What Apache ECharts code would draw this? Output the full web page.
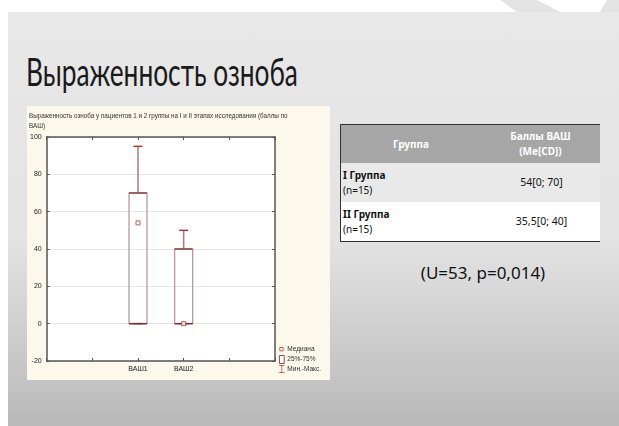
<!DOCTYPE html>
<html>
<head>
    <meta charset="UTF-8">
    <title>Выраженность озноба</title>
    <script src="https://cdn.jsdelivr.net/npm/echarts@6/dist/echarts.min.js"></script>
    <style>
        body { margin: 0; width: 619px; height: 426px; background: #fff; overflow: hidden; position: relative; font-family: "Noto Sans", sans-serif; }
        #slide { position: absolute; left: 8px; top: 12px; right: 0; bottom: 0;
                 background: linear-gradient(#e8e8e8 0%, #e3e3e3 55%, #b9b9b9 100%); }
        #deco1 { position: absolute; left: 500px; top: 0; width: 119px; height: 12px; background: #e3e3e3;
                 clip-path: polygon(0 0, 100% 0, 100% 100%, 17px 100%); }
        #deco2 { position: absolute; left: 537px; top: 0; width: 70px; height: 12px; background: #fff;
                 clip-path: polygon(0 0, 100% 0, 63px 100%, 23px 100%); }
        #title { position: absolute; left: 26px; top: 48px; font-family: Lato, "Open Sans", sans-serif; font-weight: 400;
                 font-size: 38px; color: #1a1a1a; white-space: nowrap; transform-origin: 0 0; }
        #panel { position: absolute; left: 27px; top: 106px; width: 303px; height: 274px; background: #fdf8ec; }
        #chart { width: 303px; height: 274px; }
        #tbl { position: absolute; left: 340px; top: 124px; width: 260px; border-collapse: collapse;
               border-top: 1px solid #333; border-bottom: 1px solid #333; border-left: 1px solid #333; font-size: 10px; }
        #tbl th { background: #a6a6a6; color: #fff; font-weight: bold; height: 38px; text-align: center; line-height: 15px; padding: 0; }
        #tbl td { height: 39px; padding: 0 0 0 2px; color: #111; line-height: 15px; }
        #tbl td.v { text-align: center; font-size: 10.5px; }
        #tbl tr.r1 td { background: #e9e9e9; }
        #tbl tr.r2 td { background: #fff; }
        #stats { position: absolute; left: 383px; width: 200px; top: 261px; text-align: center; font-size: 17px; color: #111; }
    </style>
</head>
<body>
    <div id="slide"></div>
    <div id="deco1"></div>
    <div id="deco2"></div>
    <div id="title">Выраженность озноба</div>
    <div id="panel"><div id="chart"></div></div>
    <table id="tbl"></table>
    <div id="stats"></div>

    <script>
        // данные диаграммы
        var categories = ['', '', 'ВАШ1', 'ВАШ2', '', ''];
        var boxCats = ['ВАШ1', 'ВАШ2'];
        var minVals = [0, 0];
        var q1Vals = [0, 0];
        var medianVals = [54, 0];
        var q3Vals = [70, 40];
        var maxVals = [95, 50];

        // таблица
        var tableHead = ['Группа', 'Баллы ВАШ<br>(Me[CD])'];
        var groupNames = ['I Группа', 'II Группа'];
        var groupN = ['(n=15)', '(n=15)'];
        var groupScores = ['54[0; 70]', '35,5[0; 40]'];
        var statsText = '(U=53, p=0,014)';

        var html = '<tr><th style="width:140px">' + tableHead[0] + '</th><th>' + tableHead[1] + '</th></tr>';
        for (var i = 0; i < groupNames.length; i++) {
            html += '<tr class="r' + (i + 1) + '"><td><b>' + groupNames[i] + '</b><br>' + groupN[i] +
                '</td><td class="v">' + groupScores[i] + '</td></tr>';
        }
        document.getElementById('tbl').innerHTML = html;
        document.getElementById('stats').textContent = statsText;

        // заголовок слайда подгоняем по ширине
        var t = document.getElementById('title');
        t.style.transform = 'scaleX(' + (272 / t.offsetWidth) + ')';

        var boxData = boxCats.map(function (c, i) { return [c, q1Vals[i], q3Vals[i]]; });
        var whiskerData = boxCats.map(function (c, i) { return [c, minVals[i], q1Vals[i], q3Vals[i], maxVals[i]]; });
        var medianData = boxCats.map(function (c, i) { return [c, medianVals[i]]; });

        var boxColor = '#9a4a4a';
        var whiskerColor = '#c47474';
        var capColor = '#b03838';
        var axisCol = '#555';

        var chart = echarts.init(document.getElementById('chart'));
        var option = {
            animation: false,
            textStyle: { fontFamily: 'Liberation Sans, Arial, sans-serif' },
            title: {
                text: 'Выраженность озноба у пациентов 1 и 2 группы на I и II этапах исследования (баллы по\nВАШ)',
                left: 2, top: 6, padding: 0,
                textStyle: { fontSize: 6.3, fontWeight: 'normal', color: '#333', lineHeight: 9.5 }
            },
            legend: {
                orient: 'vertical', left: 251, top: 239, padding: 0, itemGap: 1, itemWidth: 7, itemHeight: 8,
                textStyle: { fontSize: 6.5, color: '#333', padding: [0, 0, 0, -3] },
                data: [
                    { name: 'Медиана', icon: 'path://M0,0 M10,12 M2,3 L7,3 L7,8 L2,8 Z', itemStyle: { color: '#fff', borderColor: capColor, borderWidth: 1 } },
                    { name: '25%-75%', icon: 'path://M0,0 L6,0 L6,10 L0,10 Z', itemStyle: { color: '#fff', borderColor: boxColor, borderWidth: 1 } },
                    { name: 'Мин.-Макс.', icon: 'path://M0,0 L8,0 L8,1 L4.5,1 L4.5,11 L8,11 L8,12 L0,12 L0,11 L3.5,11 L3.5,1 L0,1 Z', itemStyle: { color: capColor } }
                ]
            },
            grid: { left: 18, top: 31, right: 55, bottom: 19, show: true, backgroundColor: '#fff', borderWidth: 0 },
            xAxis: [{
                type: 'category', data: categories, boundaryGap: false,
                axisLine: { onZero: false, lineStyle: { color: axisCol, width: 1.5 } },
                axisTick: { inside: true, length: 3, interval: 0, lineStyle: { color: axisCol } },
                axisLabel: { interval: 0, fontSize: 7, color: '#222', margin: 5 }
            }, {
                type: 'category', data: categories, boundaryGap: false, position: 'top',
                axisLine: { onZero: false, lineStyle: { color: axisCol, width: 1.5 } },
                axisTick: { inside: true, length: 3, interval: 0, lineStyle: { color: axisCol } },
                axisLabel: { show: false }
            }],
            yAxis: [{
                type: 'value', min: -20, max: 100, interval: 20,
                axisLine: { show: true, onZero: false, lineStyle: { color: axisCol, width: 1.5 } },
                axisTick: { show: true, inside: true, length: 3, lineStyle: { color: axisCol } },
                axisLabel: { fontSize: 7, color: '#222', margin: 5 },
                splitLine: { lineStyle: { color: '#e6e6e6' } }
            }, {
                type: 'value', min: -20, max: 100, interval: 20, position: 'right',
                axisLine: { show: true, onZero: false, lineStyle: { color: axisCol, width: 1.5 } },
                axisTick: { show: true, inside: true, length: 3, lineStyle: { color: axisCol } },
                axisLabel: { show: false }, splitLine: { show: false }
            }],
            series: [{
                name: 'Мин.-Макс.', type: 'custom', z: 2,
                renderItem: function (params, api) {
                    var x = api.value(0);
                    var pMin = api.coord([x, api.value(1)]);
                    var pQ1 = api.coord([x, api.value(2)]);
                    var pQ3 = api.coord([x, api.value(3)]);
                    var pMax = api.coord([x, api.value(4)]);
                    var cw = 4.5;
                    return { type: 'group', children: [
                        { type: 'line', shape: { x1: pMax[0], y1: pMax[1], x2: pQ3[0], y2: pQ3[1] }, style: { stroke: whiskerColor, lineWidth: 1.5 } },
                        { type: 'line', shape: { x1: pQ1[0], y1: pQ1[1], x2: pMin[0], y2: pMin[1] }, style: { stroke: whiskerColor, lineWidth: 1.5 } },
                        { type: 'line', shape: { x1: pMax[0] - cw, y1: pMax[1], x2: pMax[0] + cw, y2: pMax[1] }, style: { stroke: capColor, lineWidth: 1.5 } },
                        { type: 'line', shape: { x1: pMin[0] - cw, y1: pMin[1], x2: pMin[0] + cw, y2: pMin[1] }, style: { stroke: capColor, lineWidth: 1.5 } }
                    ] };
                },
                encode: { x: 0, y: [1, 2, 3, 4] },
                data: whiskerData
            }, {
                name: '25%-75%', type: 'custom', z: 3,
                renderItem: function (params, api) {
                    var x = api.value(0);
                    var p1 = api.coord([x, api.value(1)]);
                    var p3 = api.coord([x, api.value(2)]);
                    var w = 18;
                    return { type: 'group', children: [
                        { type: 'rect', shape: { x: p1[0] - w / 2, y: p3[1], width: w, height: p1[1] - p3[1] },
                          style: { fill: 'none', stroke: '#b89090', lineWidth: 1.2 } },
                        { type: 'line', shape: { x1: p1[0] - w / 2, y1: p3[1], x2: p1[0] + w / 2, y2: p3[1] }, style: { stroke: '#7a3030', lineWidth: 1.3 } },
                        { type: 'line', shape: { x1: p1[0] - w / 2, y1: p1[1], x2: p1[0] + w / 2, y2: p1[1] }, style: { stroke: '#7a3030', lineWidth: 1.5 } }
                    ] };
                },
                encode: { x: 0, y: [1, 2] },
                data: boxData
            }, {
                name: 'Медиана', type: 'scatter', z: 4,
                symbol: 'rect', symbolSize: 4,
                itemStyle: { color: '#fff', borderColor: capColor, borderWidth: 1 },
                data: medianData
            }]
        };
        chart.setOption(option);
    </script>
</body>
</html>
